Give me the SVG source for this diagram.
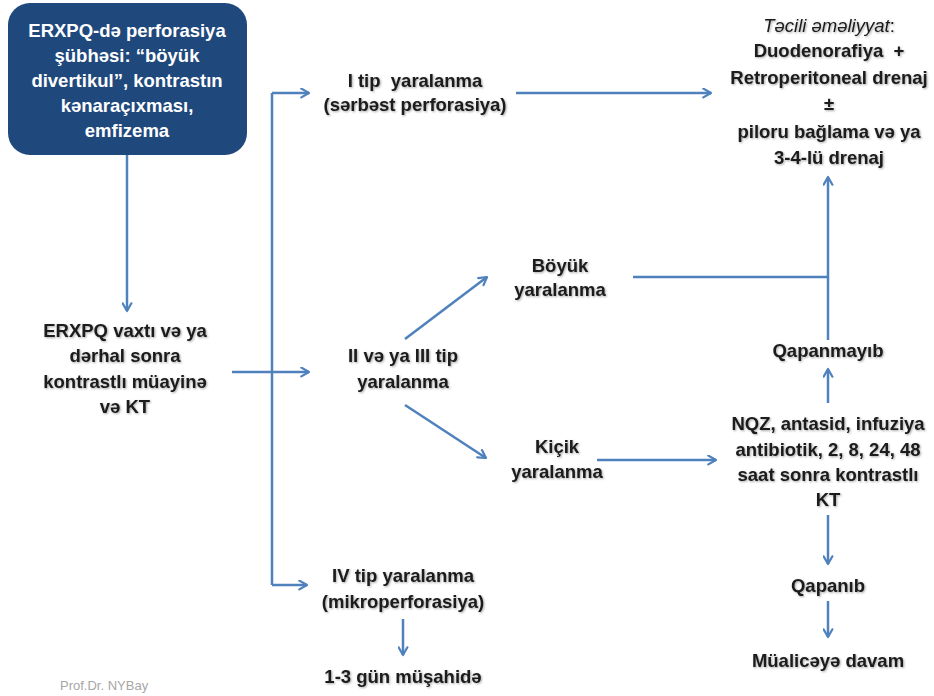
<svg xmlns="http://www.w3.org/2000/svg" width="934" height="696" viewBox="0 0 934 696">
<defs>
<marker id="ah" viewBox="0 0 10 10" refX="8" refY="5" markerWidth="4.4" markerHeight="4.4" orient="auto" markerUnits="strokeWidth">
<path d="M1,1 L8,5 L1,9" fill="none" stroke="#4f81bd" stroke-width="2" stroke-linecap="round" stroke-linejoin="round"/>
</marker>
<filter id="sh" x="-5%" y="-5%" width="110%" height="120%">
<feDropShadow dx="1" dy="1" stdDeviation="0.8" flood-color="#000" flood-opacity="0.35"/>
</filter>
</defs>
<style>
text{font-family:"Liberation Sans",Arial,sans-serif;font-weight:bold;font-size:18.5px;fill:#1a1a1a;text-anchor:middle}
.w{fill:#ffffff}
.t{filter:url(#sh)}
.c{fill:none;stroke:#4f81bd;stroke-width:2.5}
.a{marker-end:url(#ah)}
.p{font-size:13px;font-weight:normal;fill:#a6a6a6;text-anchor:start}
</style>
<rect width="934" height="696" fill="#ffffff"/>
<g id="connectors">
<path class="c a" d="M127,155 L127,311"/>
<path class="c" d="M272,93 L272,585"/>
<path class="c a" d="M272,93 L309,93"/>
<path class="c a" d="M272,585 L307,585"/>
<path class="c a" d="M232,372 L309,372"/>
<path class="c a" d="M516,93 L711,93"/>
<path class="c a" d="M405,339 L487,277"/>
<path class="c a" d="M405,405 L486,458"/>
<path class="c" d="M633,277 L828,277"/>
<path class="c a" d="M828,340 L828,177"/>
<path class="c a" d="M828,403 L828,369"/>
<path class="c a" d="M597,460 L716,460"/>
<path class="c a" d="M828,515 L828,564"/>
<path class="c a" d="M828,601 L828,637"/>
<path class="c a" d="M403,619 L403,655"/>
</g>
<g id="n_suspect">
<rect x="8" y="3" width="239" height="152" rx="22" fill="#1f497d"/>
<text class="w" x="127" y="37">ERXPQ-də perforasiya</text>
<text class="w" x="127" y="62">şübhəsi: “böyük</text>
<text class="w" x="127" y="87">divertikul”, kontrastın</text>
<text class="w" x="127" y="112">kənaraçıxması,</text>
<text class="w" x="127" y="137">emfizema</text>
</g>
<g id="n_erxpq" class="t">
<text x="125" y="337">ERXPQ vaxtı və ya</text>
<text x="125" y="362">dərhal sonra</text>
<text x="125" y="388">kontrastlı müayinə</text>
<text x="125" y="413">və KT</text>
</g>
<g id="n_type1" class="t">
<text x="415" y="87" xml:space="preserve">I tip  yaralanma</text>
<text x="415" y="111">(sərbəst perforasiya)</text>
</g>
<g id="n_type23" class="t">
<text x="403" y="362">II və ya III tip</text>
<text x="403" y="388">yaralanma</text>
</g>
<g id="n_type4" class="t">
<text x="403" y="582">IV tip yaralanma</text>
<text x="403" y="608">(mikroperforasiya)</text>
</g>
<g id="n_obs" class="t">
<text x="403" y="683">1-3 gün müşahidə</text>
</g>
<g id="n_big" class="t">
<text x="560" y="272">Böyük</text>
<text x="560" y="296">yaralanma</text>
</g>
<g id="n_small" class="t">
<text x="557" y="453">Kiçik</text>
<text x="557" y="478">yaralanma</text>
</g>
<g id="n_surgery" class="t">
<text x="829" y="32"><tspan font-style="italic" font-weight="normal">Təcili əməliyyat</tspan><tspan font-weight="normal">:</tspan></text>
<text x="829" y="57" xml:space="preserve">Duodenorafiya  +</text>
<text x="829" y="84">Retroperitoneal drenaj</text>
<text x="829" y="110" font-weight="normal">±</text>
<text x="829" y="138">piloru bağlama və ya</text>
<text x="829" y="164">3-4-lü drenaj</text>
</g>
<g id="n_notclosed" class="t">
<text x="828" y="357">Qapanmayıb</text>
</g>
<g id="n_conservative" class="t">
<text x="828" y="430">NQZ, antasid, infuziya</text>
<text x="828" y="456">antibiotik, 2, 8, 24, 48</text>
<text x="828" y="481">saat sonra kontrastlı</text>
<text x="828" y="506">KT</text>
</g>
<g id="n_closed" class="t">
<text x="828" y="592">Qapanıb</text>
</g>
<g id="n_continue" class="t">
<text x="828" y="667">Müalicəyə davam</text>
</g>
<text class="p" x="60" y="690">Prof.Dr. NYBay</text>
</svg>
